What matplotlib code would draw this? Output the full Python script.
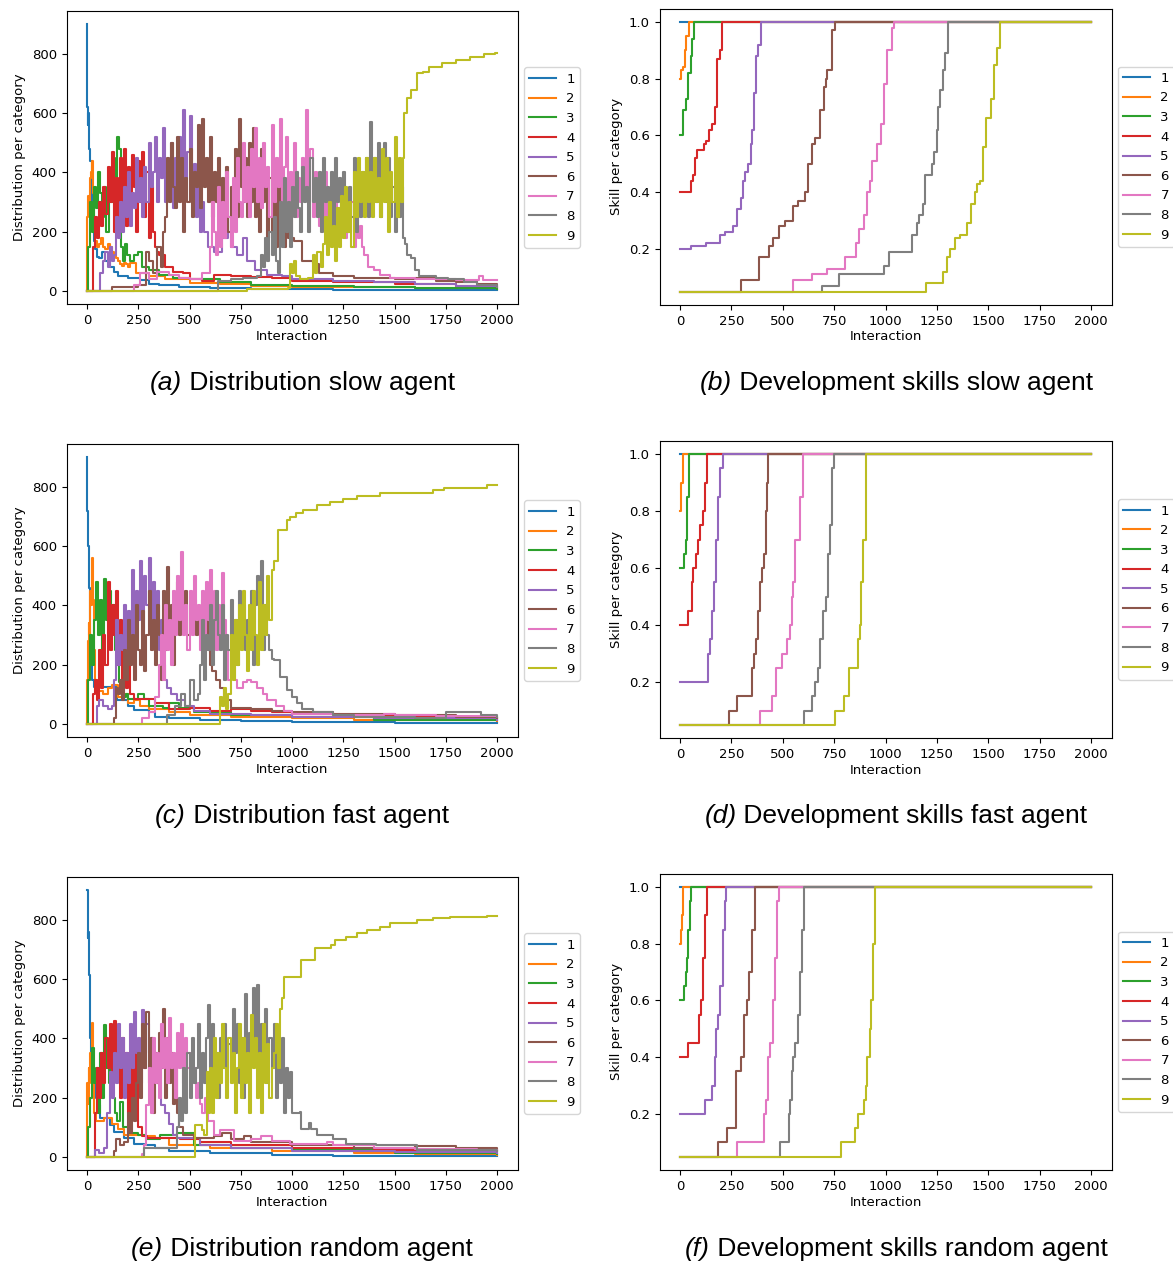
import numpy as np
import matplotlib
matplotlib.use("Agg")
import matplotlib.pyplot as plt

# ---------------- data: distribution panels (left) ----------------
# each series: dense start (step 10 interactions), dense values, extra (x, y) breakpoints
# (a) slow agent
A1_D0, A1_D = 0, []
A1_P = [0,900, 2,620, 4,560, 6,600, 8,520, 10,480, 13,440, 22,440, 25,300, 28,220, 32,170, 40,140, 50,115, 60,110,
        75,130, 90,100, 110,80, 130,65, 150,52, 200,45, 260,38, 300,25, 350,20, 450,15, 600,10, 800,6, 1000,5,
        1200,4, 1600,2, 2000,2]
A2_D0 = 40
A2_D = [170,150,160,180,150,140,160,150,130,120,110,100,90,85,95,90,80]
A2_P = [0,0, 2,250, 6,320, 10,280, 15,380, 20,400, 25,440, 30,330, 35,200, 210,95, 240,60, 300,50, 380,40, 500,28,
        650,22, 800,18, 1000,15, 1300,12, 1600,10, 2000,8]
A3_D0 = 5
A3_D = [150,300,200,350,280,400,330,250,350,200,400,300,450,380,520,480]
A3_P = [0,0, 165,150, 175,100, 185,160, 195,120, 210,100, 230,120, 250,130, 270,80, 300,70, 350,55, 420,45, 500,40,
        650,30, 800,20, 1000,18, 1300,12, 1600,10, 2000,8]
A4_D0 = 20
A4_D = [0,150,250,180,300,220,350,260,420,300, 470,200,380,250,450,300,480,220,420,280,
        460,350,200,440,300,470,250,400,180,350, 200,150,130]
A4_P = [0,0, 350,120, 380,80, 420,65, 470,60, 500,40, 560,35, 620,55, 700,50, 800,48, 900,45, 1000,35, 1200,30,
        1500,22, 1800,18, 2000,15]
A5_D0 = 80
A5_D = [100,130,80,150,100,120,250,180,300,200, 350,250,400,220,330,280,450,300,380,250,
        420,300,500,350,400,520,300,450,380,550, 300,420,350,500,280,450,350,520,400,610,
        380,470,590,300,430,250,380,200,300]
A5_P = [0,0, 65,60, 570,200, 590,150, 620,130, 660,180, 690,250, 700,150, 730,120, 760,180, 780,100, 820,70,
        880,55, 950,50, 1000,40, 1200,35, 1400,30, 1600,25, 1800,18, 2000,15]
A6_D0 = 380
A6_D = [250,450,300,500,350,280,520,300,450,200, 380,300,480,250,400,350,560,280,580,350,
        450,300,520,250,400,300,450,200,380,250, 420,200,350,300,480,250,580,350,300,450,
        250,500,300,550,250,400,200,480,300,350, 180,380,200,300,150,350,200,380,150,250,
        180,350,180]
A6_P = [0,0, 120,15, 250,20, 290,130, 300,100, 320,60, 340,150, 360,80, 370,200, 1010,170, 1050,100, 1100,90,
        1130,60, 1200,50, 1300,45, 1500,40, 1600,45, 1700,35, 1800,30, 1900,25, 2000,20]
A7_D0 = 600
A7_D = [150,300,200,120,350,150,300,180,400,250, 150,380,200,450,300,250,500,300,420,250,
        480,350,550,300,450,280,500,350,420,250, 560,300,450,350,580,300,420,520,250,400,
        300,500,250,380,300,450,350,610,300,480, 250,400,350,220,300,250,400,200,300,250,
        220,300,200,280,220,300,180,250,200,300, 150,260,180,220,150,120]
A7_P = [0,0, 230,20, 260,60, 300,40, 340,65, 400,55, 450,45, 500,40, 560,60, 1370,80, 1400,70, 1430,55, 1480,45,
        1600,40, 1800,38, 1900,38, 1910,50, 1930,38, 2000,38]
A8_D0 = 880
A8_D = [100,200,120,250,100,60,300,150,380,200, 300,150,350,250,400,280,200,420,300,350,
        200,450,300,380,250,400,200,450,300,350, 250,400,200,450,300,380,250,400,300,200,
        350,250,450,200,380,250,400,300,450,250, 570,350,450,300,500,250,400,500,300,450,
        250,350,200,400,250,350,180,160,120]
A8_P = [0,0, 640,35, 700,40, 760,45, 830,50, 850,120, 860,80, 870,180, 1580,110, 1600,70, 1620,50, 1700,45,
        1760,40, 1840,30, 1900,20, 2000,15]
A9_D0 = 1160
A9_D = [250,120,300,150,220,100,280,150,320,180, 350,200,300,150,400,250,450,300,400,250,
        450,300,400,250,450,300,380,250,480,300, 450,200,400,300,520,250,450,300,450]
A9_P = [0,0, 780,5, 980,10, 990,90, 1000,60, 1010,100, 1020,50, 1040,40, 1080,45, 1100,120, 1110,60, 1120,130,
        1140,80, 1150,160, 1545,600, 1560,650, 1580,680, 1610,735, 1640,740, 1670,757, 1730,768, 1800,780,
        1870,790, 1935,800, 1990,804, 2000,804]

# (c) fast agent
C1_D0, C1_D = 0, []
C1_P = [0,900, 2,720, 4,700, 6,600, 8,500, 11,460, 14,300, 18,200, 25,150, 32,126, 80,126, 146,80, 200,60, 230,47,
        300,40, 330,25, 400,20, 550,15, 750,10, 1000,5, 1500,3, 2000,2]
C2_D0, C2_D = 0, []
C2_P = [0,0, 2,150, 5,280, 8,340, 12,300, 16,450, 20,400, 25,560, 30,420, 35,250, 40,150, 50,110, 80,100, 100,120,
        120,130, 150,90, 170,100, 200,70, 230,80, 260,60, 300,50, 400,40, 500,30, 700,25, 1000,20, 1300,15,
        1600,12, 2000,10]
C3_D0 = 5
C3_D = [150,300,200,350,480,300,420,200,490,350,450,300,400,250,200]
C3_P = [0,0, 155,140, 170,90, 190,100, 200,85, 250,100, 280,85, 300,60, 370,55, 400,70, 450,55, 520,40, 700,30,
        1000,25, 1400,15, 2000,12]
C4_D0 = 30
C4_D = [100,150,80,250,120,300,200,480,250,400,300,450,200,350,150,300,120,200]
C4_P = [0,0, 210,100, 230,85, 300,85, 330,70, 400,50, 500,55, 600,45, 700,50, 800,45, 900,40, 1000,35, 1200,30,
        1500,25, 1800,22, 2000,20]
C5_D0 = 130
C5_D = [150,350,200,300,250,400,200,380,250,520, 300,450,350,550,300,500,400,560,300,480,
        350,450,250,350,200,150]
C5_P = [0,0, 50,60, 60,80, 80,60, 100,50, 120,60, 390,120, 410,100, 440,80, 480,60, 520,45, 600,35, 800,30,
        1000,25, 1400,20, 2000,15]
C6_D0 = 180
C6_D = [250,150,350,200,300,150,400,250,200,380, 180,300,450,250,350,200,400,300,150,450,
        250,530,300,400,200,350,480,300,400,350, 450,300,400,350,420,300,380,330,420,300,
        350,250,200]
C6_P = [0,0, 130,20, 140,120, 150,100, 160,150, 170,80, 610,180, 630,150, 650,120, 670,80, 700,55, 800,50,
        900,45, 1000,40, 1200,35, 1500,30, 1800,25, 2000,20]
C7_D0 = 360
C7_D = [300,150,400,250,350,200,450,300,500,350, 580,300,400,250,450,300,500,350,400,250,
        450,300,480,350,520,300,450,250,400,300, 510,350,250,150,300,200,150]
C7_P = [0,0, 270,20, 300,40, 330,90, 350,200, 730,120, 760,140, 780,150, 800,140, 830,120, 860,100, 880,80,
        920,60, 960,45, 1000,35, 1200,30, 1450,35, 1500,30, 1700,28, 2000,25]
C8_D0 = 550
C8_D = [200,350,150,300,250,400,200,350,450,300, 250,400,150,300,250,420,300,350,200,450,
        300,400,250,350,300,450,200,400,500,300, 550,250,400,300,250,220]
C8_P = [0,0, 390,30, 430,60, 460,100, 480,60, 500,150, 520,80, 540,100, 910,215, 940,160, 975,115, 1000,90,
        1025,70, 1050,50, 1100,40, 1200,30, 1300,25, 1600,20, 1750,40, 1920,30, 2000,25]
C9_D0 = 700
C9_D = [300,150,350,200,400,250,450,300,180,400, 250,450,300,200,480,250,400,300,500,350, 520]
C9_P = [0,0, 640,0, 650,90, 660,60, 670,120, 680,50, 690,100, 910,550, 930,654, 975,690, 990,700, 1020,711,
        1055,722, 1120,740, 1185,750, 1250,758, 1315,769, 1430,778, 1670,778, 1690,789, 1740,795, 1950,806,
        2000,806]

# (e) random agent
E1_D0, E1_D = 0, []
E1_P = [0,900, 3,740, 5,760, 8,700, 11,614, 14,500, 17,400, 20,344, 30,250, 45,200, 57,175, 65,130, 114,107,
        130,85, 180,63, 230,45, 276,40, 330,29, 400,20, 600,12, 900,6, 1200,4, 2000,2]
E2_D0, E2_D = 0, []
E2_P = [0,0, 2,250, 5,180, 8,300, 12,250, 16,350, 20,300, 24,451, 30,300, 35,150, 45,120, 81,130, 120,110,
        150,95, 180,75, 276,70, 330,63, 400,40, 600,30, 900,20, 1300,15, 1600,10, 2000,8]
E3_D0 = 5
E3_D = [100,200,367,250,300,150,350,200,445,300,250,350,200,150]
E3_P = [0,0, 145,120, 163,186, 175,100, 200,80, 250,75, 290,60, 358,75, 439,80, 520,40, 700,30, 1000,25,
        1500,15, 2000,10]
E4_D0 = 40
E4_D = [150,300,200,350,250,400,300,450,250,460, 300,350,200,400,250,350,150,300,200,380, 250]
E4_P = [0,0, 250,100, 270,70, 293,63, 455,60, 553,50, 700,40, 1000,30, 1400,25, 2000,20]
E5_D0 = 130
E5_D = [350,250,450,300,400,200,350,250,450,300, 490,350,400,250,496,300,450,350,400,200,
        350,250,300,175]
E5_P = [0,0, 41,25, 60,15, 81,30, 98,150, 110,287, 120,200, 380,150, 400,110, 420,75, 439,63, 553,40, 700,30,
        1000,20, 1500,18, 2000,15]
E6_D0 = 250
E6_D = [350,200,450,300,490,250,400,150,350,250, 420,300,500,200,400,250,350,180,300,150]
E6_P = [0,0, 130,20, 140,60, 160,40, 180,50, 200,150, 210,80, 220,200, 230,120, 240,250, 450,100, 470,75,
        520,65, 618,70, 660,80, 700,60, 765,70, 800,50, 1000,40, 1300,30, 1600,38, 1800,30, 2000,25]
E7_D0 = 300
E7_D = [300,150,400,250,350,200,450,300,400,250, 468,300,350,200,420,300,450,250,400,300,
        350,250,300,200,250,180,150]
E7_P = [0,0, 270,10, 280,40, 290,175, 575,200, 590,120, 618,75, 650,90, 716,55, 800,60, 850,70, 900,55, 990,45,
        1170,50, 1200,40, 1400,30, 1600,28, 1900,25, 2000,25]
E8_D0 = 470
E8_D = [300,150,350,200,400,250,300,450,200,350, 250,400,513,300,450,250,350,200,400,300,
        450,250,380,300,500,350,450,250,400,200, 550,300,420,350,570,400,580,300,450,350,
        500,250,400,300,450,200,350,250,400,150, 300,200,287,150,150,150]
E8_P = [0,0, 270,0, 276,29, 430,30, 440,100, 450,200, 460,120, 1040,153, 1045,96, 1085,113, 1095,96, 1120,73,
        1200,62, 1265,45, 1410,40, 1610,24, 2000,20]
E9_D0 = 600
E9_D = [300,150,400,200,350,250,450,300,200,400, 250,350,150,300,450,200,400,250,350,150,
        480,300,400,200,350,150,450,250,380,200, 300,350,450,300,500,535]
E9_P = [0,0, 520,0, 525,107, 560,90, 570,75, 585,287, 595,150, 960,606, 1045,664, 1110,704, 1190,715, 1210,732,
        1265,743, 1315,755, 1365,766, 1430,777, 1480,789, 1610,800, 1690,806, 1770,809, 1950,815, 2000,815]

# ---------------- data: skill panels (right), step breakpoints (x, y) ----------------
B1 = [0,1.0, 2000,1.0]
B2 = [0,0.80, 5,0.83, 15,0.84, 25,0.90, 30,0.95, 45,1.0, 2000,1.0]
B3 = [0,0.60, 12,0.69, 27,0.73, 39,0.82, 51,0.88, 58,0.94, 67,1.0, 2000,1.0]
B4 = [0,0.40, 55,0.44, 62,0.46, 71,0.52, 83,0.55, 115,0.57, 124,0.58, 143,0.62, 156,0.64, 168,0.70, 182,0.87,
      195,0.90, 204,1.0, 2000,1.0]
B5 = [0,0.20, 53,0.21, 124,0.22, 195,0.25, 218,0.26, 257,0.28, 278,0.34, 296,0.38, 306,0.44, 315,0.47, 333,0.50,
      345,0.57, 350,0.62, 359,0.75, 370,0.88, 380,0.92, 393,1.0, 2000,1.0]
B6 = [0,0.05, 297,0.09, 384,0.17, 434,0.21, 451,0.24, 483,0.28, 513,0.30, 549,0.35, 575,0.37, 607,0.40, 625,0.50,
      642,0.57, 655,0.59, 681,0.69, 699,0.77, 708,0.80, 717,0.83, 740,0.97, 752,1.0, 2000,1.0]
B7 = [0,0.05, 552,0.09, 641,0.11, 717,0.13, 802,0.17, 858,0.22, 873,0.27, 897,0.32, 912,0.40, 924,0.44, 933,0.51,
      956,0.57, 979,0.64, 993,0.78, 1009,0.90, 1030,0.98, 1040,1.0, 2000,1.0]
B8 = [0,0.05, 690,0.07, 773,0.11, 991,0.14, 1018,0.19, 1127,0.25, 1152,0.29, 1163,0.32, 1180,0.36, 1191,0.46,
      1227,0.50, 1237,0.54, 1248,0.62, 1257,0.70, 1265,0.76, 1278,0.83, 1288,0.89, 1306,1.0, 2000,1.0]
B9 = [0,0.05, 1195,0.08, 1278,0.12, 1297,0.17, 1315,0.20, 1340,0.24, 1363,0.25, 1398,0.29, 1416,0.36, 1434,0.40,
      1446,0.43, 1460,0.44, 1474,0.56, 1487,0.66, 1513,0.73, 1527,0.85, 1540,0.91, 1557,1.0, 2000,1.0]

D1 = [0,1.0, 2000,1.0]
D2 = [0,0.80, 5,0.90, 12,1.0, 2000,1.0]
D3 = [0,0.60, 18,0.65, 27,0.70, 35,0.85, 44,1.0, 2000,1.0]
D4 = [0,0.40, 39,0.45, 58,0.55, 65,0.60, 76,0.65, 88,0.70, 97,0.75, 110,0.80, 119,0.90, 129,1.0, 2000,1.0]
D5 = [0,0.20, 136,0.30, 146,0.35, 156,0.45, 165,0.55, 177,0.70, 186,0.85, 195,0.95, 207,1.0, 2000,1.0]
D6 = [0,0.05, 239,0.10, 278,0.15, 349,0.25, 359,0.30, 368,0.35, 381,0.45, 391,0.55, 400,0.60, 409,0.65, 419,0.80,
      424,0.90, 430,1.0, 2000,1.0]
D7 = [0,0.05, 389,0.10, 446,0.15, 465,0.25, 496,0.30, 522,0.35, 536,0.40, 543,0.50, 552,0.55, 561,0.70, 584,0.85,
      596,1.0, 2000,1.0]
D8 = [0,0.05, 602,0.10, 642,0.15, 658,0.20, 673,0.25, 681,0.35, 694,0.45, 708,0.50, 720,0.65, 731,0.75, 740,0.95,
      749,1.0, 2000,1.0]
D9 = [0,0.05, 752,0.10, 800,0.15, 823,0.25, 864,0.35, 876,0.40, 882,0.55, 888,0.70, 903,1.0, 2000,1.0]

F1 = [0,1.0, 2000,1.0]
F2 = [0,0.80, 3,0.85, 8,0.90, 14,1.0, 2000,1.0]
F3 = [0,0.60, 20,0.65, 28,0.70, 35,0.75, 41,0.85, 50,0.95, 55,1.0, 2000,1.0]
F4 = [0,0.40, 41,0.45, 94,0.55, 103,0.60, 112,0.75, 120,0.90, 129,1.0, 2000,1.0]
F5 = [0,0.20, 120,0.25, 154,0.30, 168,0.40, 177,0.50, 186,0.55, 195,0.65, 209,0.85, 218,0.95, 225,1.0, 2000,1.0]
F6 = [0,0.05, 186,0.10, 230,0.15, 274,0.35, 297,0.40, 310,0.55, 327,0.60, 336,0.70, 349,0.85, 363,1.0, 2000,1.0]
F7 = [0,0.05, 278,0.10, 407,0.20, 416,0.25, 428,0.40, 439,0.45, 451,0.60, 464,0.75, 473,0.95, 483,1.0, 2000,1.0]
F8 = [0,0.05, 487,0.10, 531,0.20, 536,0.25, 543,0.35, 550,0.40, 561,0.45, 572,0.55, 584,0.70, 593,0.85, 602,1.0,
      2000,1.0]
F9 = [0,0.05, 782,0.10, 850,0.15, 867,0.20, 894,0.25, 906,0.30, 912,0.40, 924,0.50, 929,0.60, 938,0.80, 950,1.0,
      2000,1.0]

CATEGORIES = ["1", "2", "3", "4", "5", "6", "7", "8", "9"]
DIST_TICKS = [0, 200, 400, 600, 800]
SKILL_TICKS = [0.2, 0.4, 0.6, 0.8, 1.0]
X_TICKS = [0, 250, 500, 750, 1000, 1250, 1500, 1750, 2000]
CAPTIONS = [("(a)", "Distribution slow agent"), ("(b)", "Development skills slow agent"),
            ("(c)", "Distribution fast agent"), ("(d)", "Development skills fast agent"),
            ("(e)", "Distribution random agent"), ("(f)", "Development skills random agent")]

# ---------------- drawing ----------------
W, H = 1173, 1266
plt.rcParams["font.family"] = "DejaVu Sans"
plt.rcParams["font.size"] = 9
plt.rcParams["axes.linewidth"] = 0.8
colors = plt.rcParams["axes.prop_cycle"].by_key()["color"]

fig = plt.figure(figsize=(W / 100, H / 100), dpi=100)


def add_ax(l, r, t, b):
    return fig.add_axes([l / W, 1 - b / H, (r - l) / W, (b - t) / H])


def left_series(d0, dense, pairs):
    xs = list(pairs[0::2]) + [d0 + 10 * i for i in range(len(dense))]
    ys = list(pairs[1::2]) + list(dense)
    order = np.argsort(xs, kind="stable")
    return np.array(xs)[order], np.array(ys)[order]


def style(ax):
    ax.set_xlim(-100, 2100)
    ax.set_xticks(X_TICKS)
    ax.set_xlabel("Interaction", fontsize=9.5, labelpad=2)
    ax.tick_params(labelsize=9.5, width=0.8, length=3.5)
    ax.legend(loc="center left", bbox_to_anchor=(1.0, 0.5), fontsize=9.5, handlelength=2.0)


left_sets = [
    [(A1_D0, A1_D, A1_P), (A2_D0, A2_D, A2_P), (A3_D0, A3_D, A3_P), (A4_D0, A4_D, A4_P), (A5_D0, A5_D, A5_P),
     (A6_D0, A6_D, A6_P), (A7_D0, A7_D, A7_P), (A8_D0, A8_D, A8_P), (A9_D0, A9_D, A9_P)],
    [(C1_D0, C1_D, C1_P), (C2_D0, C2_D, C2_P), (C3_D0, C3_D, C3_P), (C4_D0, C4_D, C4_P), (C5_D0, C5_D, C5_P),
     (C6_D0, C6_D, C6_P), (C7_D0, C7_D, C7_P), (C8_D0, C8_D, C8_P), (C9_D0, C9_D, C9_P)],
    [(E1_D0, E1_D, E1_P), (E2_D0, E2_D, E2_P), (E3_D0, E3_D, E3_P), (E4_D0, E4_D, E4_P), (E5_D0, E5_D, E5_P),
     (E6_D0, E6_D, E6_P), (E7_D0, E7_D, E7_P), (E8_D0, E8_D, E8_P), (E9_D0, E9_D, E9_P)],
]
right_sets = [[B1, B2, B3, B4, B5, B6, B7, B8, B9],
              [D1, D2, D3, D4, D5, D6, D7, D8, D9],
              [F1, F2, F3, F4, F5, F6, F7, F8, F9]]

left_boxes = [(66.5, 517.5, 11, 304.3), (66.5, 517.5, 444, 737.3), (66.5, 517.5, 877, 1170.3)]
right_boxes = [(659.5, 1111.6, 8.5, 305), (659.5, 1111.6, 440.5, 738.3), (659.5, 1111.6, 873.5, 1170)]
cap_y = [383, 816, 1249]
cap_x = [302, 896]

for row in range(3):
    axl = add_ax(*left_boxes[row])
    for i, (d0, dense, pairs) in enumerate(left_sets[row]):
        xs, ys = left_series(d0, dense, pairs)
        axl.plot(xs, ys, drawstyle="steps-post", color=colors[i], lw=1.5, label=CATEGORIES[i])
    axl.set_ylim(-45, 945)
    axl.set_yticks(DIST_TICKS)
    axl.set_ylabel("Distribution per category", fontsize=9.5, labelpad=4)
    style(axl)

    axr = add_ax(*right_boxes[row])
    for i, pairs in enumerate(right_sets[row]):
        axr.plot(pairs[0::2], pairs[1::2], drawstyle="steps-post", color=colors[i], lw=1.5, label=CATEGORIES[i])
    axr.set_ylim(0.0025, 1.0475)
    axr.set_yticks(SKILL_TICKS)
    axr.set_yticklabels([f"{v:.1f}" for v in SKILL_TICKS])
    axr.set_ylabel("Skill per category", fontsize=9.5, labelpad=4)
    style(axr)

renderer = fig.canvas.get_renderer()
CAP_FS = 19
for k, (tag, rest) in enumerate(CAPTIONS):
    row, col = divmod(k, 2)
    cy = 1 - cap_y[row] / H
    t1 = fig.text(0, cy, tag, fontsize=CAP_FS, style="italic", family="Liberation Sans", va="center")
    t2 = fig.text(0, cy, " " + rest, fontsize=CAP_FS, family="Liberation Sans", va="center")
    w1 = t1.get_window_extent(renderer).width
    w2 = t2.get_window_extent(renderer).width
    x0 = cap_x[col] - (w1 + w2) / 2
    t1.set_x(x0 / W)
    t2.set_x((x0 + w1) / W)

fig.savefig("out.png", dpi=100)
